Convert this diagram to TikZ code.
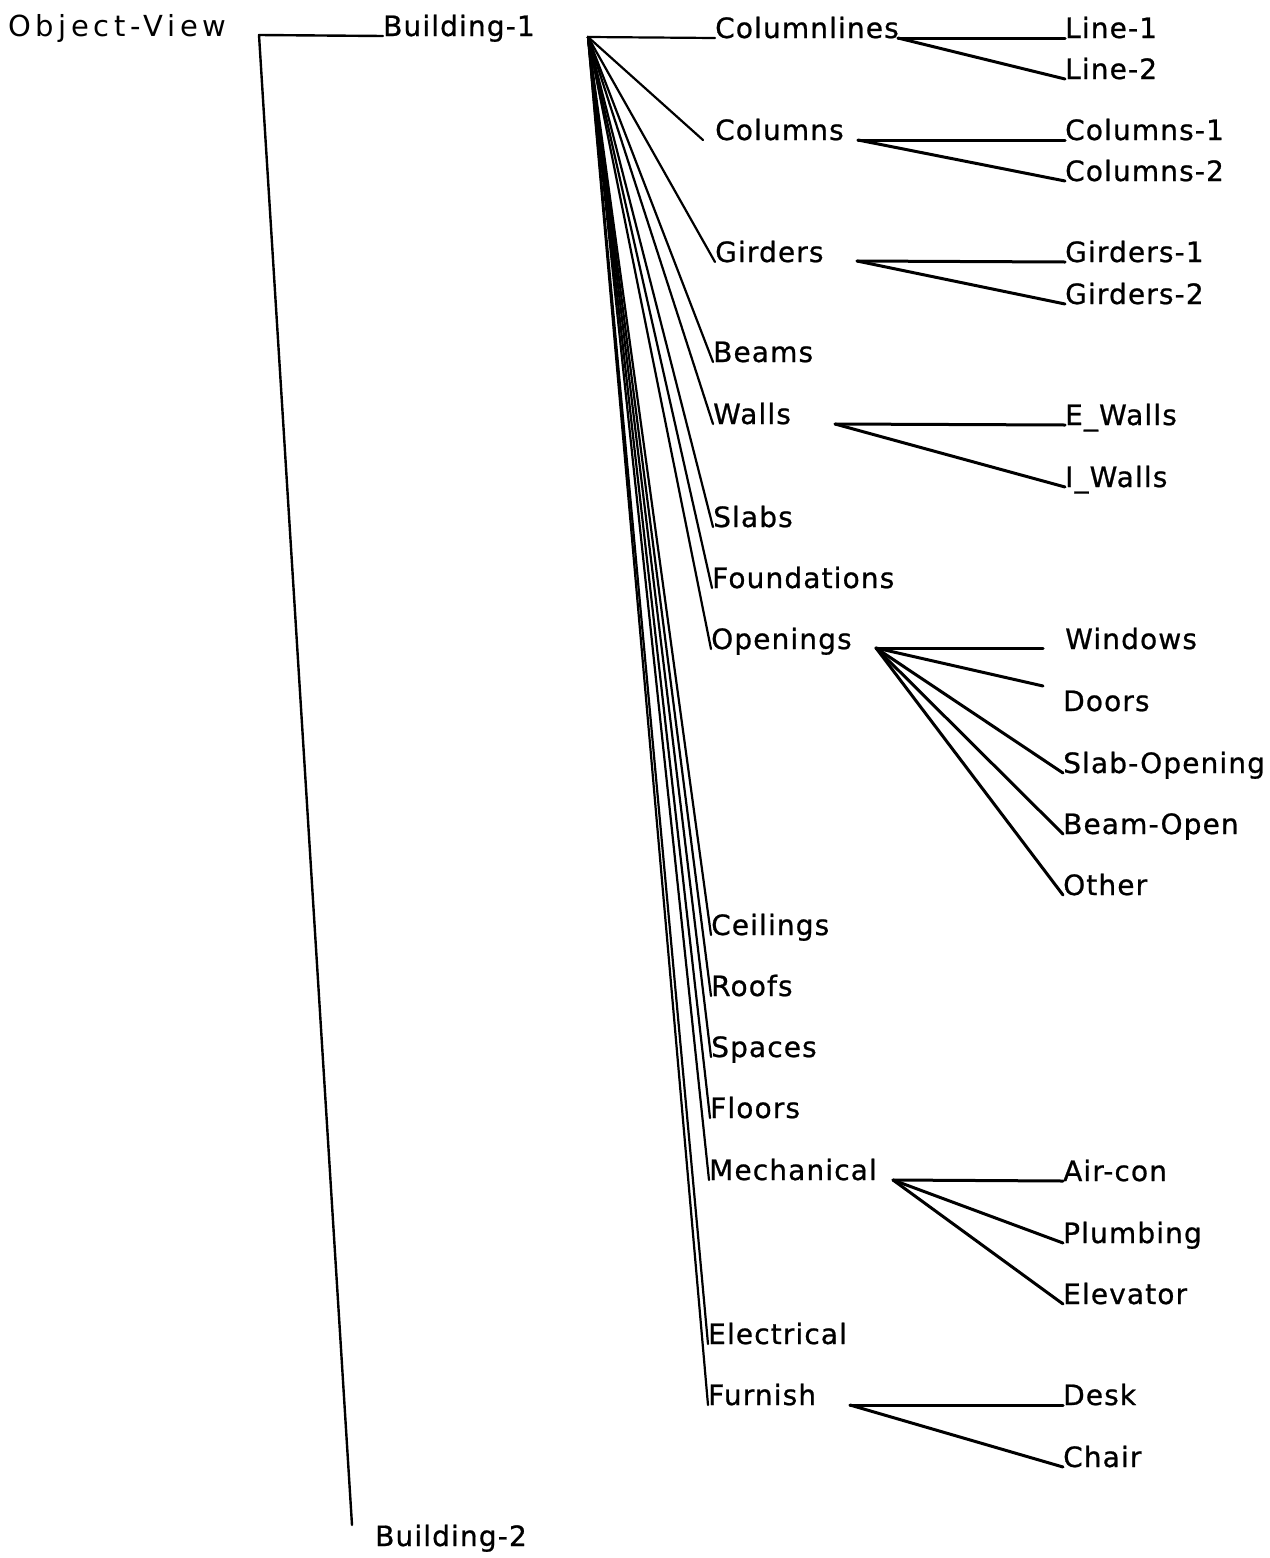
\documentclass[tikz,border=0pt]{standalone}
\usepackage{fontspec}
\setmainfont{DejaVu Sans}
\usetikzlibrary{calc}
\begin{document}
\begin{tikzpicture}[x=1pt,y=-1pt,
  lbl/.style={anchor=base west, inner sep=0pt,
    font=\fontsize{28}{30}\selectfont\addfontfeatures{LetterSpace=4,FakeBold=0.8}},
  rootlbl/.style={anchor=base west, inner sep=0pt,
    font=\fontsize{29}{31}\selectfont\addfontfeatures{LetterSpace=16}},
  trunk/.style={line width=2.4pt, line cap=round, line join=round},
  spoke/.style={line width=2.2pt, line cap=round},
  twig/.style={line width=3pt, line cap=round}]
\useasboundingbox (0,0) rectangle (1269,1558);

% ---- root and buildings
\node[rootlbl] (ov) at (8,36) {Object-View};
\node[lbl] (b1) at (383,36) {Building-1};
\node[lbl] (b2) at (375,1546) {Building-2};
\coordinate (ovo) at (259,35);
\coordinate (b2e) at (352,1525);
\draw[trunk] (b1.base west) -- (ovo) -- (b2e);

% ---- components of Building-1
\node[lbl] (cl)   at (715,38)   {Columnlines};
\node[lbl] (col)  at (715,140)  {Columns};
\node[lbl] (gir)  at (715,262)  {Girders};
\node[lbl] (bea)  at (713,362)  {Beams};
\node[lbl] (wal)  at (713,424)  {Walls};
\node[lbl] (sla)  at (713,527)  {Slabs};
\node[lbl] (fou)  at (712,588)  {Foundations};
\node[lbl] (ope)  at (711,649)  {Openings};
\node[lbl] (cei)  at (711,935)  {Ceilings};
\node[lbl] (roo)  at (711,996)  {Roofs};
\node[lbl] (spa)  at (711,1057) {Spaces};
\node[lbl] (flo)  at (710,1118) {Floors};
\node[lbl] (mec)  at (709,1180) {Mechanical};
\node[lbl] (ele)  at (708,1344) {Electrical};
\node[lbl] (fur)  at (708,1405) {Furnish};

\coordinate (b1o) at (588,37);
\draw[spoke] (b1o) -- (cl.base west);
\draw[spoke] (b1o) -- ($(col.base west)+(-12,0)$);
\foreach \n in {gir,bea,wal,sla,fou,ope,cei,roo,spa,flo,mec,ele,fur}
  \draw[spoke] (b1o) -- (\n.base west);

% ---- Columnlines
\node[lbl] (l1) at (1065,38) {Line-1};
\node[lbl] (l2) at (1065,79) {Line-2};
\coordinate (clo) at (898,38);
\draw[twig] (clo) -- (l1.base west);
\draw[twig] (clo) -- (l2.base west);

% ---- Columns
\node[lbl] (c1) at (1065,140) {Columns-1};
\node[lbl] (c2) at (1065,181) {Columns-2};
\coordinate (colo) at (858,140);
\draw[twig] (colo) -- (c1.base west);
\draw[twig] (colo) -- (c2.base west);

% ---- Girders
\node[lbl] (g1) at (1065,262) {Girders-1};
\node[lbl] (g2) at (1065,304) {Girders-2};
\coordinate (giro) at (857,261);
\draw[twig] (giro) -- (g1.base west);
\draw[twig] (giro) -- (g2.base west);

% ---- Walls
\node[lbl] (ew) at (1065,425) {E\_Walls};
\node[lbl] (iw) at (1065,487) {I\_Walls};
\coordinate (walo) at (835,424);
\draw[twig] (walo) -- (ew.base west);
\draw[twig] (walo) -- (iw.base west);

% ---- Openings
\node[lbl] (win) at (1065,649) {Windows};
\node[lbl] (doo) at (1063,711) {Doors};
\node[lbl] (sop) at (1063,773) {Slab-Opening};
\node[lbl] (bop) at (1063,834) {Beam-Open};
\node[lbl] (oth) at (1063,895) {Other};
\coordinate (opeo) at (876,648);
\coordinate (wine) at (1043,648);
\coordinate (dooe) at (1043,686);
\draw[twig] (opeo) -- (wine);
\draw[twig] (opeo) -- (dooe);
\foreach \n in {sop,bop,oth}
  \draw[twig] (opeo) -- (\n.base west);

% ---- Mechanical
\node[lbl] (air) at (1063,1181) {Air-con};
\node[lbl] (plu) at (1063,1243) {Plumbing};
\node[lbl] (elv) at (1063,1304) {Elevator};
\coordinate (meco) at (893,1180);
\foreach \n in {air,plu,elv}
  \draw[twig] (meco) -- (\n.base west);

% ---- Furnish
\node[lbl] (des) at (1063,1405) {Desk};
\node[lbl] (cha) at (1063,1467) {Chair};
\coordinate (furo) at (850,1405);
\draw[twig] (furo) -- (des.base west);
\draw[twig] (furo) -- (cha.base west);
\end{tikzpicture}
\end{document}
